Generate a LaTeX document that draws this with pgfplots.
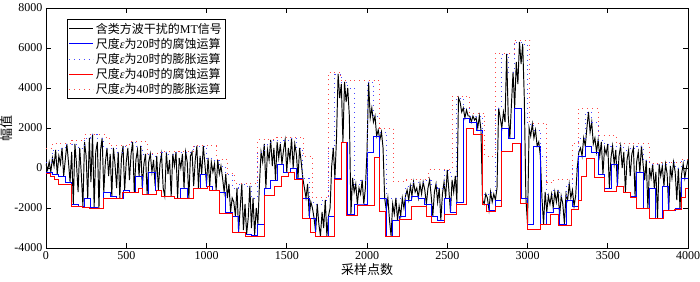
\documentclass[border=0pt]{standalone}
\usepackage{pgfplots}
\pgfplotsset{compat=1.18}
\usepackage{fontspec}
\setmainfont{Liberation Serif}
\newfontfamily\cjk{Noto Sans CJK SC}
\definecolor{myblue}{RGB}{0,0,255}
\definecolor{myred}{RGB}{255,0,0}
\definecolor{dotblue}{RGB}{70,70,255}
\definecolor{dotred}{RGB}{255,70,70}
\begin{document}
\begin{tikzpicture}
\path[use as bounding box] (-46pt,-33pt) rectangle (654pt,248pt);
\begin{axis}[
  scale only axis, width=642pt, height=240pt,
  at={(0,0)}, anchor=south west,
  xmin=0, xmax=4000, ymin=-4000, ymax=8000,
  xtick={0,500,...,4000}, ytick={-4000,-2000,...,8000},
  tick align=inside,
  major tick length=5pt,
  every tick/.style={line width=0.8pt, black},
  axis line style={line width=0.8pt},
  /pgf/number format/assume math mode=true,
  /pgf/number format/1000 sep={},
  tick label style={font=\fontsize{12}{14}\selectfont},
  xlabel={\cjk 采样点数}, ylabel={\cjk 幅值},
  label style={font=\fontsize{13}{15}\selectfont},
  xlabel style={at={(axis description cs:0.5,-0.062)}, anchor=north, inner sep=0pt},
  ylabel style={at={(axis description cs:-0.0514,0.5)}, anchor=south, inner sep=0pt},
  legend style={at={(axis description cs:0,1)}, anchor=north west, xshift=21pt, yshift=-11pt,
    font=\fontsize{12}{14}\selectfont, draw=black, line width=0.8pt, inner sep=1.5pt, row sep=-0.5pt},
  legend cell align=left,
  legend image code/.code={\draw[#1] (0pt,0pt) -- (24pt,0pt);},
]
\addplot[black, line width=0.95pt] coordinates {
(0,200)(10,-100)(20,300)(30,-200)(40,500)(50,100)(60,900)(70,-300)(80,600)(90,200)
(100,1000)(110,-400)(120,400)(130,1200)(140,300)(150,-700)(160,800)(170,-1800)(180,1200)(190,200)
(200,-1200)(210,1000)(220,-300)(230,-1900)(240,1300)(250,600)(260,-1500)(270,1500)(280,-700)(290,1700)
(300,-1950)(310,800)(320,1300)(330,-2000)(340,900)(350,1500)(360,-1200)(370,300)(380,1000)(390,-400)
(400,700)(410,-1400)(420,1000)(430,200)(440,-1000)(450,800)(460,-1500)(470,500)(480,1100)(490,-1100)
(500,300)(510,1000)(520,-600)(530,700)(540,1300)(550,-1200)(560,400)(570,900)(580,-400)(590,1100)
(600,-1000)(610,200)(620,700)(630,-1300)(640,300)(650,700)(660,-200)(670,400)(680,-900)(690,600)
(700,-1100)(710,200)(720,700)(730,-1000)(740,-1400)(750,800)(760,-300)(770,400)(780,-1400)(790,700)
(800,100)(810,800)(820,-1500)(830,500)(840,0)(850,700)(860,-1000)(870,800)(880,300)(890,-1500)
(900,600)(910,800)(920,-900)(930,400)(940,1100)(950,-1000)(960,600)(970,-300)(980,1100)(990,200)
(1000,-800)(1010,500)(1020,-900)(1030,300)(1040,-200)(1050,200)(1060,-1100)(1070,400)(1080,-300)(1090,100)
(1100,-500)(1110,-1200)(1120,-300)(1130,-1500)(1140,-800)(1150,-2200)(1160,-1500)(1170,-1700)(1180,-2400)(1190,-1000)
(1200,-3200)(1210,-2000)(1220,-800)(1230,-3100)(1240,-1800)(1250,-3300)(1260,-2500)(1270,-900)(1280,-3000)(1290,-1500)
(1300,-3350)(1310,-2000)(1320,-2800)(1330,-800)(1340,800)(1350,300)(1360,1200)(1370,-1000)(1380,900)(1390,400)
(1400,1400)(1410,100)(1420,1000)(1430,-600)(1440,1300)(1450,500)(1460,1200)(1470,200)(1480,900)(1490,1400)
(1500,-200)(1510,1000)(1520,400)(1530,1500)(1540,0)(1550,1200)(1560,700)(1570,-500)(1580,1000)(1590,300)
(1600,-500)(1610,-1000)(1620,-1500)(1630,-800)(1640,-2400)(1650,-1700)(1660,-2000)(1670,-2500)(1680,-3200)(1690,-1800)
(1700,-2800)(1710,-3400)(1720,-2200)(1730,-3000)(1740,-1600)(1750,-3400)(1760,-2400)(1770,-2000)(1780,100)(1790,1000)
(1800,-500)(1810,1500)(1820,4700)(1830,3500)(1840,4200)(1850,1300)(1860,4300)(1870,3300)(1880,4000)(1890,2600)
(1900,-2300)(1910,-500)(1920,-1200)(1930,-800)(1940,-1800)(1950,-1000)(1960,-1300)(1970,-600)(1980,-1800)(1990,-1000)
(2000,800)(2010,4300)(2020,2500)(2030,3000)(2040,2300)(2050,2600)(2060,1600)(2070,1900)(2080,1400)(2090,1800)
(2100,1000)(2110,-1500)(2120,-2100)(2130,-1500)(2140,-2600)(2150,-3400)(2160,-1800)(2170,-2300)(2180,-1500)(2190,-2600)
(2200,-1900)(2210,-2400)(2220,-1500)(2230,-2000)(2240,-1400)(2250,-1100)(2260,-1600)(2270,-900)(2280,-1400)(2290,-700)
(2300,-1200)(2310,-1000)(2320,-1500)(2330,-800)(2340,-1300)(2350,-700)(2360,-1100)(2370,-1800)(2380,-1000)(2390,-600)
(2400,-1400)(2410,-2400)(2420,-1200)(2430,-800)(2440,-1700)(2450,-1000)(2460,-2600)(2470,-1300)(2480,-700)(2490,-1500)
(2500,-100)(2510,-1100)(2520,-2200)(2530,-600)(2540,-1200)(2550,-400)(2560,-1700)(2570,3500)(2580,3300)(2590,2800)
(2600,3000)(2610,2500)(2620,2900)(2630,2600)(2640,2600)(2650,2300)(2660,2600)(2670,2400)(2680,2500)(2690,2000)
(2700,2600)(2710,1900)(2720,-1600)(2730,-1800)(2740,-1300)(2750,-1500)(2760,-2100)(2770,-1200)(2780,-1700)(2790,-1300)
(2800,-1600)(2810,-1000)(2820,3000)(2830,2500)(2840,2000)(2850,2800)(2860,2300)(2870,5700)(2880,2600)(2890,1500)
(2900,3200)(2910,4800)(2920,3000)(2930,5300)(2940,4200)(2950,6300)(2960,5200)(2970,6200)(2980,3500)(2990,-1500)
(3000,-2800)(3010,2000)(3020,1600)(3030,2200)(3040,1500)(3050,1900)(3060,1100)(3070,1300)(3080,600)(3090,-1500)
(3100,-2800)(3110,-1200)(3120,-2200)(3130,-1400)(3140,-1800)(3150,-1300)(3160,-2000)(3170,-1200)(3180,-1700)(3190,-1100)
(3200,-2400)(3210,-1400)(3220,-1800)(3230,-2800)(3240,-1300)(3250,-1600)(3260,-800)(3270,-1500)(3280,-1100)(3290,-1900)
(3300,-1400)(3310,0)(3320,800)(3330,1000)(3340,600)(3350,1500)(3360,1100)(3370,2000)(3380,2800)(3390,1800)
(3400,2300)(3410,1200)(3420,1500)(3430,800)(3440,1400)(3450,600)(3460,1300)(3470,-300)(3480,1000)(3490,700)
(3500,1200)(3510,-1000)(3520,500)(3530,1100)(3540,200)(3550,900)(3560,-900)(3570,600)(3580,1100)(3590,0)
(3600,800)(3610,-1200)(3620,400)(3630,900)(3640,-400)(3650,700)(3660,1000)(3670,-1400)(3680,300)(3690,800)
(3700,-200)(3710,1100)(3720,200)(3730,-600)(3740,400)(3750,-2000)(3760,0)(3770,-500)(3780,200)(3790,-1000)
(3800,-200)(3810,-2500)(3820,200)(3830,-400)(3840,100)(3850,-900)(3860,200)(3870,-300)(3880,-2100)(3890,100)
(3900,-500)(3910,300)(3920,-200)(3930,-1600)(3940,0)(3950,-2000)(3960,-300)(3970,200)(3980,-500)(3990,0)
(4000,400)
};
\addlegendentry{{\cjk 含类方波干扰的}MT{\cjk 信号}}
\addplot[myblue, line width=0.9pt, const plot] coordinates {
(0,-200)(40,-300)(80,-400)(120,-700)(160,-1800)(200,-1900)(240,-1500)(280,-1950)(320,-2000)(360,-1200)
(400,-1400)(440,-1500)(480,-1100)(520,-1200)(560,-400)(600,-1300)(640,-200)(680,-1100)(720,-1400)(760,-1400)
(800,-1500)(840,-1000)(880,-1500)(920,-1000)(960,-300)(1000,-900)(1040,-1100)(1080,-1200)(1120,-2200)(1160,-2400)
(1200,-3200)(1240,-3300)(1280,-3350)(1320,-2800)(1360,-1000)(1400,-600)(1440,200)(1480,-200)(1520,0)(1560,-500)
(1600,-1500)(1640,-2500)(1680,-3400)(1720,-3400)(1760,-2400)(1800,-500)(1840,1300)(1880,-2300)(1920,-1800)(1960,-1800)
(2000,800)(2040,1600)(2080,-1500)(2120,-3400)(2160,-2600)(2200,-2400)(2240,-1600)(2280,-1400)(2320,-1500)(2360,-1800)
(2400,-2400)(2440,-2600)(2480,-1500)(2520,-2200)(2560,-1700)(2600,2500)(2640,2300)(2680,1900)(2720,-1800)(2760,-2100)
(2800,-1600)(2840,2000)(2880,1500)(2920,3000)(2960,-1500)(3000,-2800)(3040,1100)(3080,-2800)(3120,-2200)(3160,-2000)
(3200,-2800)(3240,-1600)(3280,-1900)(3320,600)(3360,1100)(3400,800)(3440,-300)(3480,-1000)(3520,200)(3560,-900)
(3600,-1200)(3640,-1400)(3680,-200)(3720,-2000)(3760,-1000)(3800,-2500)(3840,-900)(3880,-2100)(3920,-2000)(3960,-500)
(4000,-500)
};
\addlegendentry{{\cjk 尺度}\textit{ε}{\cjk 为}20{\cjk 时的腐蚀运算}}
\addplot[dotblue, line width=1pt, dash pattern=on 1pt off 3.8pt, const plot] coordinates {
(0,300)(40,900)(80,1000)(120,1200)(160,1200)(200,1000)(240,1500)(280,1700)(320,1500)(360,1000)
(400,1000)(440,800)(480,1100)(520,1300)(560,1100)(600,700)(640,700)(680,600)(720,800)(760,700)
(800,800)(840,800)(880,800)(920,1100)(960,1100)(1000,500)(1040,400)(1080,100)(1120,-300)(1160,-1000)
(1200,-800)(1240,-900)(1280,-1500)(1320,800)(1360,1200)(1400,1400)(1440,1300)(1480,1400)(1520,1500)(1560,1000)
(1600,-500)(1640,-1700)(1680,-1800)(1720,-1600)(1760,1000)(1800,4700)(1840,4300)(1880,4000)(1920,-800)(1960,-600)
(2000,4300)(2040,2600)(2080,1800)(2120,-1500)(2160,-1500)(2200,-1500)(2240,-900)(2280,-700)(2320,-700)(2360,-600)
(2400,-800)(2440,-1000)(2480,-100)(2520,-400)(2560,3500)(2600,3000)(2640,2600)(2680,2600)(2720,-1300)(2760,-1200)
(2800,3000)(2840,5700)(2880,4800)(2920,6300)(2960,6200)(3000,2200)(3040,1900)(3080,600)(3120,-1300)(3160,-1100)
(3200,-1400)(3240,-800)(3280,0)(3320,1500)(3360,2800)(3400,2300)(3440,1400)(3480,1200)(3520,1100)(3560,1100)
(3600,900)(3640,1000)(3680,1100)(3720,400)(3760,200)(3800,200)(3840,200)(3880,300)(3920,0)(3960,400)
(4000,400)
};
\addlegendentry{{\cjk 尺度}\textit{ε}{\cjk 为}20{\cjk 时的膨胀运算}}
\addplot[myred, line width=0.9pt, const plot] coordinates {
(0,-250)(30,-420)(50,-580)(75,-830)(159,-1900)(228,-1990)(270,-2040)(359,-1540)(479,-1210)(576,-1020)
(598,-1330)(690,-1110)(720,-1440)(800,-1540)(920,-1030)(1007,-910)(1021,-1130)(1080,-2290)(1160,-3230)(1244,-3400)
(1360,-1380)(1425,-910)(1467,-420)(1508,-220)(1545,-580)(1595,-2540)(1648,-3230)(1680,-3430)(1800,-550)(1840,1280)
(1870,-2370)(1940,-1870)(2045,550)(2080,-2160)(2112,-3400)(2204,-2570)(2274,-1900)(2371,-2400)(2399,-2700)(2482,-2320)
(2560,-1820)(2622,1990)(2663,1700)(2719,-1820)(2747,-2160)(2802,-1900)(2840,830)(2908,1240)(2955,-1770)(2997,-3070)
(3081,-2820)(3142,-2320)(3192,-2850)(3276,-2070)(3320,-1640)(3337,-420)(3365,500)(3415,-450)(3480,-1160)(3554,-910)
(3600,-1240)(3640,-1460)(3679,-2040)(3762,-2520)(3846,-2100)(3916,-2050)(3960,-1490)(3985,-1000)(4000,-1000)
};
\addlegendentry{{\cjk 尺度}\textit{ε}{\cjk 为}40{\cjk 时的腐蚀运算}}
\addplot[dotred, line width=1pt, dash pattern=on 1pt off 3.8pt, const plot] coordinates {
(0,1000)(40,1240)(160,1400)(240,1700)(367,1540)(395,1110)(520,1330)(632,710)(715,820)(827,830)
(920,1110)(1063,420)(1133,-280)(1175,-780)(1320,1440)(1438,1540)(1606,580)(1661,-1490)(1760,4800)(1835,4390)
(1912,4360)(2080,1990)(2162,-660)(2246,-580)(2385,-80)(2530,3600)(2640,2730)(2735,580)(2800,5750)(2920,6400)
(3015,2250)(3120,-710)(3164,-580)(3280,1240)(3320,2980)(3440,1650)(3554,1210)(3760,250)(3832,300)(3960,450)
(4000,450)
};
\addlegendentry{{\cjk 尺度}\textit{ε}{\cjk 为}40{\cjk 时的膨胀运算}}
\end{axis}
\end{tikzpicture}
\end{document}
